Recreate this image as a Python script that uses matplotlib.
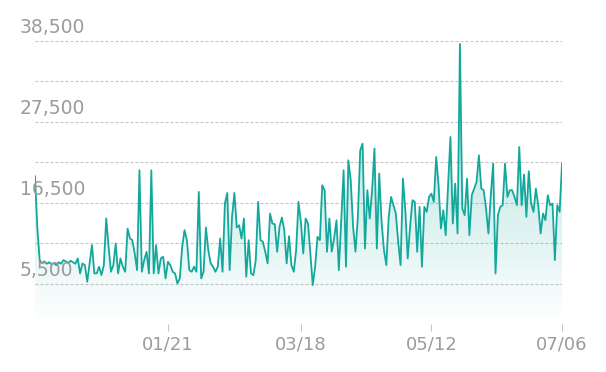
import numpy as np
import pandas as pd
import matplotlib
matplotlib.use("Agg")
import matplotlib.pyplot as plt
import matplotlib.transforms as mtransforms

# ---- data ----
start_date = "2022-11-26"
values = [
    20100, 13000, 8600, 8300, 8500, 8200, 8400, 8100, 8300, 8000,
    8400, 8200, 8700, 8500, 8300, 8600, 8400, 8200, 8920, 6880,
    8240, 8000, 5750, 8240, 10730, 6880, 6900, 7790, 6650, 8010,
    14350, 10500, 7110, 8010, 10950, 6880, 8920, 7790, 7110, 12990,
    11630, 11400, 9600, 7330, 20910, 7110, 8690, 9820, 6880, 20910,
    6880, 10730, 6880, 8920, 9140, 6200, 8460, 8010, 7110, 6880,
    5520, 6200, 10500, 12770, 11400, 7330, 7110, 7790, 7110, 17970,
    6200, 7110, 13130, 10050, 8240, 7790, 7110, 7790, 11630, 7110,
    16390, 17830, 7330, 14580, 17830, 13130, 13440, 11630, 14350, 6430,
    11400, 6880, 6650, 8690, 16610, 11400, 11180, 9820, 8240, 15030,
    13670, 13580, 9820, 13220, 14490, 12770, 8240, 11950, 8010, 7110,
    10050, 16610, 13900, 9600, 14350, 13670, 9600, 5300, 7790, 11860,
    11410, 18880, 18200, 9830, 14350, 9830, 11630, 14120, 7330, 14120,
    20910, 7790, 22270, 19560, 13220, 9830, 14580, 23630, 24530, 10270,
    18200, 14350, 18200, 23860, 10270, 20460, 13900, 10050, 8010, 14580,
    17290, 16160, 15030, 11180, 8010, 19780, 15480, 8920, 13220, 16840,
    16610, 9830, 15930, 7790, 15930, 15250, 17290, 17740, 16610, 22720,
    18880, 12990, 15480, 12090, 18880, 25440, 13670, 19100, 12310, 38110,
    15710, 14800, 19780, 12090, 17520, 18420, 19330, 22950, 18420, 18200,
    15710, 12310, 17520, 21820, 6880, 14800, 15930, 16160, 21820, 17290,
    18200, 18200, 17290, 16160, 24080, 16160, 20330, 14580, 20780, 16390,
    15250, 18420, 16160, 12310, 15030, 14120, 17520, 16160, 16390, 8690,
    16160, 15250, 21820,
]
tick_labels = ["01/21", "03/18", "05/12", "07/06"]
y_labels = [5500, 16500, 27500, 38500]
grid_step = 5500
y_max = 38500

# ---- style ----
line_color = "#14a89c"
text_color = "#9b9b9b"
grid_color = "#c6c6c6"

dates = pd.date_range(start_date, periods=len(values), freq="D")
date_str = np.array(dates.strftime("%m/%d"))
x = np.arange(len(values))
tick_pos = [int(np.where(date_str == lab)[0][0]) for lab in tick_labels]

plt.rcParams["font.family"] = ["DejaVu Sans"]

W, H = 606, 372
fig = plt.figure(figsize=(W / 100, H / 100), dpi=100)
ax = fig.add_axes([35 / W, 48 / H, (562 - 35) / W, (331 - 48) / H])
ax.set_xlim(0, len(values) - 1)
ax.set_ylim(0, y_max)

for g in np.arange(0, y_max + 1, grid_step):
    ax.axhline(g, color=grid_color, lw=0.8, ls=(0, (2.7, 1.8)), zorder=0)

# gradient fill under the line
poly = ax.fill_between(x, values, 0, facecolor="none", edgecolor="none")
grad = np.zeros((256, 1, 4))
rgb = matplotlib.colors.to_rgb(line_color)
grad[:, 0, 0], grad[:, 0, 1], grad[:, 0, 2] = rgb
grad[:, 0, 3] = np.linspace(0.0, 0.42, 256)
im = ax.imshow(grad, extent=[0, len(values) - 1, 0, y_max], origin="lower",
               aspect="auto", zorder=1, interpolation="bilinear")
path = poly.get_paths()[0]
im.set_clip_path(path, transform=ax.transData)

ax.plot(x, values, color=line_color, lw=1.3, zorder=3, solid_joinstyle="round")

for s in ax.spines.values():
    s.set_visible(False)
ax.set_yticks([])
ax.set_xticks(tick_pos, tick_labels)
ax.tick_params(axis="x", length=5, width=0.8, color="#c6c6c6",
               labelcolor=text_color, labelsize=13, pad=3)

trans = mtransforms.blended_transform_factory(fig.transFigure, ax.transData)
trans = mtransforms.offset_copy(trans, fig=fig, x=0, y=8, units="dots")
for v in y_labels:
    ax.text(20 / W, v, f"{v:,}", transform=trans, ha="left", va="baseline",
            color=text_color, fontsize=13.5, zorder=4)

fig.savefig("out.png", dpi=100)
